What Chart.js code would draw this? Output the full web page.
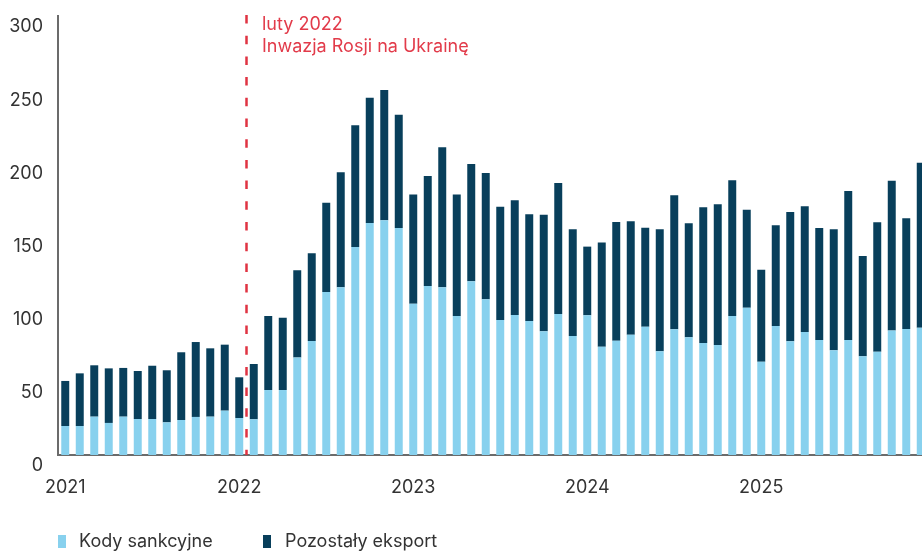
<!DOCTYPE html>
<html>
<head>
<meta charset="utf-8">
<script src="https://cdn.jsdelivr.net/npm/chart.js@4.4.1/dist/chart.umd.min.js"></script>
<style>
  html, body { margin: 0; padding: 0; background: #fff; overflow: hidden; }
  #wrap { position: relative; width: 922px; height: 551px; overflow: hidden; }
  #c { position: absolute; left: 0; top: 0; }
  .lg-box { position: absolute; width: 8px; height: 13px; top: 535px; }
  .lg-txt { position: absolute; top: 530px; font: 18px Inter, sans-serif; line-height: 22px; color: #333; white-space: nowrap; }
</style>
</head>
<body>
<div id="wrap">
  <canvas id="c" width="930" height="551"></canvas>
  <span class="lg-box" style="left:58px;background:#88d1ee"></span>
  <span class="lg-txt" style="left:79px">Kody sankcyjne</span>
  <span class="lg-box" style="left:263px;background:#083f5b"></span>
  <span class="lg-txt" style="left:285px">Pozostały eksport</span>
</div>
<script>
const months = [
  '2021-01','2021-02','2021-03','2021-04','2021-05','2021-06','2021-07','2021-08','2021-09','2021-10','2021-11','2021-12',
  '2022-01','2022-02','2022-03','2022-04','2022-05','2022-06','2022-07','2022-08','2022-09','2022-10','2022-11','2022-12',
  '2023-01','2023-02','2023-03','2023-04','2023-05','2023-06','2023-07','2023-08','2023-09','2023-10','2023-11','2023-12',
  '2024-01','2024-02','2024-03','2024-04','2024-05','2024-06','2024-07','2024-08','2024-09','2024-10','2024-11','2024-12',
  '2025-01','2025-02','2025-03','2025-04','2025-05','2025-06','2025-07','2025-08','2025-09','2025-10','2025-11','2025-12'
];
const kodySankcyjne = [
  19.8,19.8,26.2,21.9,26.2,24.6,24.6,22.3,23.9,26.0,26.2,30.3,
  25.3,24.4,44.4,44.4,66.7,77.9,111.4,114.6,142.1,158.5,160.4,155.1,
  103.4,115.5,114.6,95.0,118.7,106.4,92.3,95.7,91.6,84.5,96.4,81.3,
  95.5,74.0,78.1,82.2,87.7,70.9,85.9,80.4,76.5,75.2,95.0,100.7,
  63.8,88.2,77.7,84.1,78.6,71.5,78.6,67.4,70.6,85.0,86.1,87.0
];
const pozostalyEksport = [
  30.8,36.0,35.1,37.3,33.3,32.8,36.4,35.6,46.3,51.2,46.7,45.1,
  27.8,37.8,50.6,49.4,59.5,59.9,61.0,78.6,83.2,85.7,89.0,77.5,
  74.7,75.2,95.7,83.1,80.2,86.3,77.4,78.4,72.9,79.7,89.5,72.9,
  46.9,71.3,81.1,77.5,67.6,83.3,91.6,77.9,92.8,96.1,92.7,66.9,
  62.8,68.8,88.4,85.9,76.5,82.7,101.8,68.6,88.4,102.5,75.7,112.8
];
const yTicks = [0, 50, 100, 150, 200, 250, 300];
const seriesNames = ['Kody sankcyjne', 'Pozostały eksport'];
const invasionAfter = '2022-01';
const annotationLines = ['luty 2022', 'Inwazja Rosji na Ukrainę'];

const invasionPlugin = {
  id: 'invasion',
  afterDatasetsDraw(chart) {
    const x = chart.scales.x, ctx = chart.ctx;
    const i = months.indexOf(invasionAfter);
    const px = (x.getPixelForValue(i) + x.getPixelForValue(i + 1)) / 2;
    ctx.save();
    ctx.strokeStyle = '#e03342';
    ctx.lineWidth = 2.5;
    ctx.setLineDash([8.5, 12.2]);
    ctx.beginPath();
    ctx.moveTo(px, chart.chartArea.top - 1);
    ctx.lineTo(px, chart.chartArea.bottom);
    ctx.stroke();
    ctx.setLineDash([]);
    ctx.fillStyle = '#e23b4a';
    ctx.font = '18px Inter, sans-serif';
    ctx.textAlign = 'left';
    ctx.textBaseline = 'alphabetic';
    ctx.fillText(annotationLines[0], px + 15.5, 30);
    ctx.fillText(annotationLines[1], px + 15.5, 52);
    ctx.restore();
  }
};

new Chart(document.getElementById('c'), {
  type: 'bar',
  data: {
    labels: months,
    datasets: [
      { label: seriesNames[0], data: kodySankcyjne, backgroundColor: '#88d1ee', borderWidth: 0 },
      { label: seriesNames[1], data: pozostalyEksport, backgroundColor: '#083f5b', borderWidth: 0 }
    ]
  },
  options: {
    responsive: false,
    animation: false,
    devicePixelRatio: 1,
    layout: { padding: { top: 16, left: 0, right: 2, bottom: 0 } },
    plugins: { legend: { display: false }, tooltip: { enabled: false } },
    datasets: { bar: { categoryPercentage: 1, barPercentage: 0.55 } },
    scales: {
      x: {
        stacked: true,
        offset: true,
        grid: { display: false, drawTicks: false },
        border: { display: true, color: '#6b6b6b', width: 2 },
        afterFit(s) { s.height = 96; s.paddingLeft = 0; s.paddingRight = 0; },
        ticks: {
          autoSkip: false, maxRotation: 0, minRotation: 0, padding: 22,
          color: '#333', font: { family: 'Inter, sans-serif', size: 18 },
          callback(v, i) { return months[i].endsWith('-01') ? months[i].slice(0, 4) : ''; }
        }
      },
      y: {
        stacked: true,
        min: yTicks[0], max: yTicks[yTicks.length - 1],
        grid: { display: false, drawTicks: false },
        border: { display: true, color: '#6b6b6b', width: 2 },
        afterFit(s) { s.width = 58; s.paddingTop = 0; s.paddingBottom = 0; },
        afterBuildTicks(s) { s.ticks = yTicks.map(v => ({ value: v })); },
        ticks: {
          padding: 15, labelOffset: 11,
          color: '#333', font: { family: 'Inter, sans-serif', size: 18 }
        }
      }
    }
  },
  plugins: [invasionPlugin]
});
</script>
</body>
</html>
